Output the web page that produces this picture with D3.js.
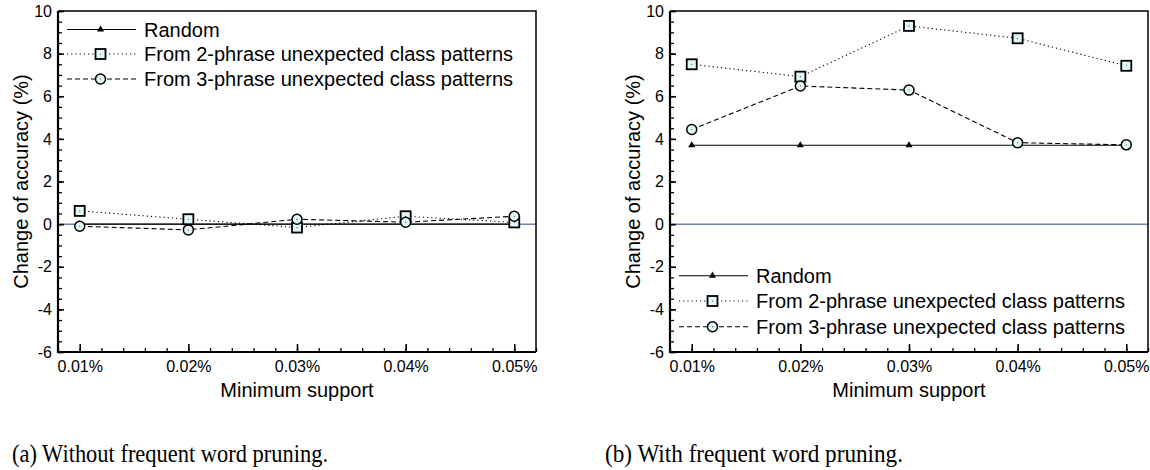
<!DOCTYPE html>
<html>
<head>
<meta charset="utf-8">
<script src="https://cdn.jsdelivr.net/npm/d3@7/dist/d3.min.js"></script>
<style>
  html, body { margin: 0; padding: 0; background: #fff; }
  svg { display: block; }
  .tick text { font-family: "Liberation Sans", Arial, sans-serif; font-size: 16px; fill: #000; }
  .axis-title, .legend text { font-family: "Liberation Sans", Arial, sans-serif; font-size: 20px; fill: #000; }
  .caption { font-family: "Liberation Serif", "Times New Roman", serif; font-size: 25px; fill: #000; }
</style>
</head>
<body>
<svg id="chart" width="1150" height="470"></svg>
<script>
// Minimum support levels (x) and their labels
const supportLevels = [0.01, 0.02, 0.03, 0.04, 0.05];
const supportLabels = ["0.01%", "0.02%", "0.03%", "0.04%", "0.05%"];
const yTickValues = [-6, -4, -2, 0, 2, 4, 6, 8, 10];

const seriesNames = [
  "Random",
  "From 2-phrase unexpected class patterns",
  "From 3-phrase unexpected class patterns"
];

// (a) Without frequent word pruning: change of accuracy (%)
const randomA = [0, 0, 0, 0, 0];
const twoPhraseA = [0.62, 0.23, -0.16, 0.37, 0.08];
const threePhraseA = [-0.1, -0.27, 0.23, 0.09, 0.37];

// (b) With frequent word pruning: change of accuracy (%)
const randomB = [3.7, 3.7, 3.7, 3.7, 3.7];
const twoPhraseB = [7.5, 6.92, 9.3, 8.72, 7.43];
const threePhraseB = [4.44, 6.48, 6.29, 3.82, 3.72];

const captions = ["(a) Without frequent word pruning.", "(b) With frequent word pruning."];

const svg = d3.select("#chart");
const markerFill = "#e2f7f7";
const zeroColor = "#7484a6";
const styles = [
  { dash: null, marker: "triangle" },
  { dash: "1.2,3", marker: "square" },
  { dash: "5,3", marker: "circle" }
];

function drawMarker(g, type, cx, cy) {
  if (type === "triangle") {
    g.append("path")
      .attr("d", d3.symbol(d3.symbolTriangle, 22)())
      .attr("transform", `translate(${cx},${cy})`)
      .attr("fill", "#000");
  } else if (type === "square") {
    g.append("rect")
      .attr("x", cx - 5).attr("y", cy - 5)
      .attr("width", 10).attr("height", 10)
      .attr("fill", markerFill).attr("stroke", "#000").attr("stroke-width", 1.8);
    g.append("circle").attr("cx", cx).attr("cy", cy).attr("r", 0.6).attr("fill", "#446");
  } else {
    g.append("circle")
      .attr("cx", cx).attr("cy", cy).attr("r", 5)
      .attr("fill", markerFill).attr("stroke", "#000").attr("stroke-width", 1.5);
    g.append("circle").attr("cx", cx).attr("cy", cy).attr("r", 0.6).attr("fill", "#446");
  }
}

function drawPanel(offsetX, data, legendRows, caption) {
  const left = 58 + offsetX, right = 536 + offsetX, top = 11, bottom = 352;
  const x = d3.scaleLinear().domain([0.008, 0.052]).range([left, right]);
  const y = d3.scaleLinear().domain([-6, 10]).range([bottom, top]);
  const g = svg.append("g");

  // zero reference line
  g.append("line")
    .attr("x1", left).attr("x2", right)
    .attr("y1", y(0)).attr("y2", y(0))
    .attr("stroke", zeroColor).attr("stroke-width", 1.5);

  // minor ticks
  const minorX = d3.range(0, 23).map(i => 0.008 + i * 0.002);
  g.append("g")
    .attr("transform", `translate(0,${bottom})`)
    .call(d3.axisBottom(x).tickValues(minorX).tickSize(-4).tickFormat(""))
    .call(a => a.select(".domain").remove())
    .call(a => a.selectAll("line").attr("stroke", "#000").attr("stroke-width", 1.3));
  const minorY = d3.range(0, 33).map(i => -6 + i * 0.5);
  g.append("g")
    .attr("transform", `translate(${left},0)`)
    .call(d3.axisLeft(y).tickValues(minorY).tickSize(-4).tickFormat(""))
    .call(a => a.select(".domain").remove())
    .call(a => a.selectAll("line").attr("stroke", "#000").attr("stroke-width", 1.3));

  // major ticks with labels
  g.append("g")
    .attr("transform", `translate(0,${bottom})`)
    .call(d3.axisBottom(x).tickValues(supportLevels).tickSize(-8).tickPadding(9)
      .tickFormat((d, i) => supportLabels[i]))
    .call(a => a.select(".domain").remove())
    .call(a => a.selectAll("line").attr("stroke", "#000").attr("stroke-width", 1.6));
  g.append("g")
    .attr("transform", `translate(${left},0)`)
    .call(d3.axisLeft(y).tickValues(yTickValues).tickSize(-6).tickPadding(6)
      .tickFormat(d => String(d)))
    .call(a => a.select(".domain").remove())
    .call(a => a.selectAll("line").attr("stroke", "#000").attr("stroke-width", 1.6));

  // frame
  g.append("path")
    .attr("d", `M${left},${top}H${right}V${bottom}`)
    .attr("fill", "none").attr("stroke", "#000").attr("stroke-width", 1.5);
  g.append("path")
    .attr("d", `M${left},${top}V${bottom}H${right}`)
    .attr("fill", "none").attr("stroke", "#000").attr("stroke-width", 2.2);

  // series lines and markers
  const line = d3.line().x((d, i) => x(supportLevels[i])).y(d => y(d));
  data.forEach((vals, si) => {
    g.append("path")
      .datum(vals)
      .attr("d", line)
      .attr("fill", "none")
      .attr("stroke", "#000")
      .attr("stroke-width", 1.1)
      .attr("stroke-dasharray", styles[si].dash);
  });
  data.forEach((vals, si) => {
    vals.forEach((v, i) => drawMarker(g, styles[si].marker, x(supportLevels[i]), y(v)));
  });

  // legend
  const lg = g.append("g").attr("class", "legend");
  legendRows.forEach((ry, si) => {
    lg.append("line")
      .attr("x1", left + 9).attr("x2", left + 78)
      .attr("y1", ry).attr("y2", ry)
      .attr("stroke", "#000").attr("stroke-width", 1.1)
      .attr("stroke-dasharray", styles[si].dash);
    drawMarker(lg, styles[si].marker, left + 42.5, ry);
    lg.append("text")
      .attr("x", left + 86).attr("y", ry).attr("dy", "0.36em")
      .text(seriesNames[si]);
  });

  // axis titles
  g.append("text").attr("class", "axis-title")
    .attr("x", (left + right) / 2).attr("y", 397)
    .attr("text-anchor", "middle")
    .text("Minimum support");
  g.append("text").attr("class", "axis-title")
    .attr("transform", `translate(${28 + offsetX},${(top + bottom) / 2}) rotate(-90)`)
    .attr("text-anchor", "middle")
    .text("Change of accuracy (%)");

  // caption
  svg.append("text").attr("class", "caption")
    .attr("x", caption.x).attr("y", 462)
    .attr("textLength", caption.width)
    .attr("lengthAdjust", "spacingAndGlyphs")
    .text(caption.text);
}

drawPanel(0, [randomA, twoPhraseA, threePhraseA], [29.5, 54, 79],
  { x: 12, width: 316, text: captions[0] });
drawPanel(612, [randomB, twoPhraseB, threePhraseB], [275.7, 301, 326.7],
  { x: 605, width: 298, text: captions[1] });
</script>
</body>
</html>
